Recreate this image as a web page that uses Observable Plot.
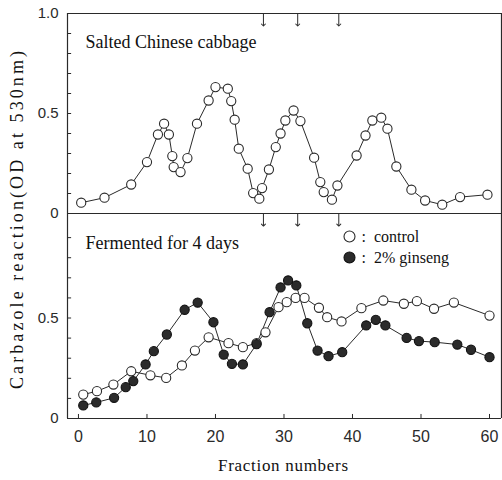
<!DOCTYPE html>
<html><head><meta charset="utf-8">
<script src="https://cdn.jsdelivr.net/npm/d3@7"></script>
<script src="https://cdn.jsdelivr.net/npm/@observablehq/plot@0.6"></script>
<style>
body{margin:0;background:#fff;}
#wrap{position:relative;width:502px;height:480px;overflow:hidden;background:#fff;}
#wrap svg{display:block}
#overlay{position:absolute;left:0;top:0;pointer-events:none}
</style></head><body><div id="wrap"></div>
<script>
// ---- Data ----
const topTitle = "Salted Chinese cabbage";
const bottomTitle = "Fermented for 4 days";
const seriesNames = ["control", "2% ginseng"];

const topFraction = [0.4, 3.8, 7.7, 10.0, 11.6, 12.5, 13.2, 13.7, 13.9, 14.9, 15.9, 17.3, 19.0, 20.0, 21.8, 22.3, 22.8, 23.4, 24.7, 25.5, 26.4, 26.8, 27.8, 28.8, 29.5, 30.2, 31.4, 32.4, 34.4, 35.3, 35.8, 37.0, 37.8, 40.6, 41.9, 42.9, 44.2, 45.1, 46.4, 48.6, 50.6, 53.1, 55.7, 59.7];
const topValue = [0.054, 0.079, 0.145, 0.257, 0.395, 0.449, 0.395, 0.287, 0.232, 0.207, 0.277, 0.449, 0.565, 0.632, 0.624, 0.562, 0.469, 0.324, 0.224, 0.102, 0.074, 0.127, 0.22, 0.332, 0.40, 0.465, 0.515, 0.462, 0.279, 0.157, 0.107, 0.069, 0.14, 0.29, 0.39, 0.465, 0.479, 0.424, 0.235, 0.119, 0.065, 0.044, 0.082, 0.094];

const controlFraction = [0.7, 2.7, 5.1, 7.7, 10.5, 12.8, 15.1, 17.0, 19.0, 21.9, 24.0, 26.0, 27.3, 29.2, 30.4, 31.7, 33.0, 35.1, 36.3, 38.4, 41.3, 44.5, 47.5, 49.4, 51.9, 54.8, 60.0];
const controlValue = [0.119, 0.136, 0.169, 0.235, 0.215, 0.202, 0.264, 0.338, 0.404, 0.375, 0.355, 0.375, 0.429, 0.554, 0.579, 0.60, 0.60, 0.551, 0.504, 0.483, 0.549, 0.587, 0.571, 0.584, 0.546, 0.577, 0.512];

const ginsengFraction = [0.7, 2.6, 5.2, 6.9, 8.0, 9.8, 11.0, 12.9, 15.5, 17.4, 19.7, 21.2, 22.4, 24.0, 26.0, 27.9, 29.5, 30.6, 31.8, 33.4, 34.9, 36.5, 38.5, 42.0, 43.4, 44.8, 47.9, 49.7, 52.0, 55.3, 57.3, 60.0];
const ginsengValue = [0.065, 0.080, 0.103, 0.156, 0.186, 0.269, 0.335, 0.418, 0.541, 0.577, 0.479, 0.318, 0.272, 0.269, 0.37, 0.529, 0.652, 0.687, 0.662, 0.474, 0.338, 0.31, 0.33, 0.463, 0.491, 0.463, 0.401, 0.385, 0.38, 0.368, 0.342, 0.305];

const arrowFractions = [27, 32, 38];
const xTicks = [0, 10, 20, 30, 40, 50, 60];
const topYLabels = [0, 0.5, 1.0];
const bottomYLabels = [0, 0.5];
const yMinorTicks = [0.1, 0.2, 0.3, 0.4, 0.5, 0.6, 0.7, 0.8, 0.9];
const xTitle = "Fraction numbers";
const yTitle = "Carbazole reaction(OD at 530nm)";

// ---- Build ----
const serif = "'Liberation Serif', 'DejaVu Serif', serif";
const sans = "'Liberation Sans', Arial, sans-serif";
const ink = "#2a2a2a";
const xDomain = [-1.6, 61.75];
const topDomain = [0, 1.0];
const bottomDomain = [0, 1.02];
const fmt = d => d === 0 ? "0" : d.toFixed(1);
const tickLenX = 0.6;   // inward y-tick length in fraction units
const tickLenY = 0.02;  // inward x-tick length in OD units

const topData = topFraction.map((f, i) => ({f, v: topValue[i]}));
const controlData = controlFraction.map((f, i) => ({f, v: controlValue[i]}));
const ginsengData = ginsengFraction.map((f, i) => ({f, v: ginsengValue[i]}));

const common = {
  width: 502, marginLeft: 67, marginRight: 1,
  style: {fontFamily: sans, fontSize: "15px", color: ink, background: "white", overflow: "visible"}
};

function box(domain) {
  return [
    Plot.ruleY(domain, {y: d => d, stroke: ink, strokeWidth: 1.2}),
    Plot.ruleX(xDomain, {x: d => d, y1: domain[0], y2: domain[1], stroke: ink, strokeWidth: 1.2}),
    Plot.ruleY(yMinorTicks.filter(t => t < domain[1]), {y: d => d, x1: xDomain[0], x2: xDomain[0] + tickLenX, stroke: ink})
  ];
}

const topPlot = Plot.plot({
  ...common,
  height: 213, marginTop: 13, marginBottom: 0,
  x: {domain: xDomain, label: null, axis: null},
  y: {domain: topDomain, label: null},
  marks: [
    ...box(topDomain),
    Plot.axisY(topYLabels, {tickSize: 0, tickPadding: 9, tickFormat: fmt, fontSize: 15, fill: ink}),
    Plot.ruleX(arrowFractions, {x: d => d, y1: topDomain[1], y2: topDomain[1] - 0.06, stroke: ink, markerEnd: "arrow"}),
    Plot.line(topData, {x: "f", y: "v", stroke: ink, strokeWidth: 1}),
    Plot.dot(topData, {x: "f", y: "v", r: 4.6, fill: "white", stroke: ink, strokeWidth: 1.1}),
    Plot.text([topTitle], {text: d => d, frameAnchor: "top-left", dx: 18, dy: 29, textAnchor: "start", lineAnchor: "middle", fontFamily: serif, fontSize: 18, fill: "#111"})
  ]
});

const bottomPlot = Plot.plot({
  ...common,
  height: 267, marginTop: 0, marginBottom: 62,
  x: {domain: xDomain, label: null},
  y: {domain: bottomDomain, label: null},
  marks: [
    ...box(bottomDomain),
    Plot.ruleX(xTicks, {x: d => d, y1: bottomDomain[0], y2: bottomDomain[0] + tickLenY, stroke: ink}),
    Plot.axisY(bottomYLabels, {tickSize: 0, tickPadding: 9, tickFormat: fmt, fontSize: 15, fill: ink}),
    Plot.axisX(xTicks, {tickSize: 0, tickPadding: 12, fontSize: 16, fill: ink}),
    Plot.ruleX(arrowFractions, {x: d => d, y1: bottomDomain[1], y2: bottomDomain[1] - 0.06, stroke: ink, markerEnd: "arrow"}),
    Plot.line(controlData, {x: "f", y: "v", stroke: ink, strokeWidth: 1}),
    Plot.line(ginsengData, {x: "f", y: "v", stroke: ink, strokeWidth: 1}),
    Plot.dot(controlData, {x: "f", y: "v", r: 4.6, fill: "white", stroke: ink, strokeWidth: 1.1}),
    Plot.dot(ginsengData, {x: "f", y: "v", r: 4.6, fill: "#2b2b2b", stroke: "#111", strokeWidth: 1.1}),
    Plot.text([bottomTitle], {text: d => d, frameAnchor: "top-left", dx: 18, dy: 30, textAnchor: "start", lineAnchor: "middle", fontFamily: serif, fontSize: 18, fill: "#111"}),
    // legend
    Plot.dot([seriesNames[0]], {frameAnchor: "top-left", dx: 282, dy: 23, r: 5.5, fill: "white", stroke: ink, strokeWidth: 1.1}),
    Plot.dot([seriesNames[1]], {frameAnchor: "top-left", dx: 282, dy: 44, r: 5.5, fill: "#2b2b2b", stroke: "#111", strokeWidth: 1.1}),
    Plot.text([seriesNames[0]], {text: d => ":  " + d, frameAnchor: "top-left", dx: 294, dy: 23, textAnchor: "start", lineAnchor: "middle", fontFamily: serif, fontSize: 16, fill: "#111"}),
    Plot.text([seriesNames[1]], {text: d => ":  " + d, frameAnchor: "top-left", dx: 294, dy: 44, textAnchor: "start", lineAnchor: "middle", fontFamily: serif, fontSize: 16, fill: "#111"})
  ]
});

const wrap = document.getElementById("wrap");
wrap.appendChild(topPlot);
wrap.appendChild(bottomPlot);

// axis titles as an overlay
const ns = "http://www.w3.org/2000/svg";
const ov = document.createElementNS(ns, "svg");
ov.setAttribute("id", "overlay");
ov.setAttribute("width", 502);
ov.setAttribute("height", 480);
const yt = document.createElementNS(ns, "text");
yt.setAttribute("transform", "translate(23,220) rotate(-90)");
yt.setAttribute("text-anchor", "middle");
yt.setAttribute("font-family", serif);
yt.setAttribute("font-size", "18");
yt.setAttribute("fill", "#111");
yt.setAttribute("textLength", "338");
yt.setAttribute("lengthAdjust", "spacing");
yt.textContent = yTitle;
ov.appendChild(yt);
const xt = document.createElementNS(ns, "text");
xt.setAttribute("x", 283);
xt.setAttribute("y", 471);
xt.setAttribute("text-anchor", "middle");
xt.setAttribute("font-family", serif);
xt.setAttribute("font-size", "17");
xt.setAttribute("fill", "#111");
xt.setAttribute("textLength", "130");
xt.setAttribute("lengthAdjust", "spacing");
xt.textContent = xTitle;
ov.appendChild(xt);
wrap.appendChild(ov);
</script></body></html>
